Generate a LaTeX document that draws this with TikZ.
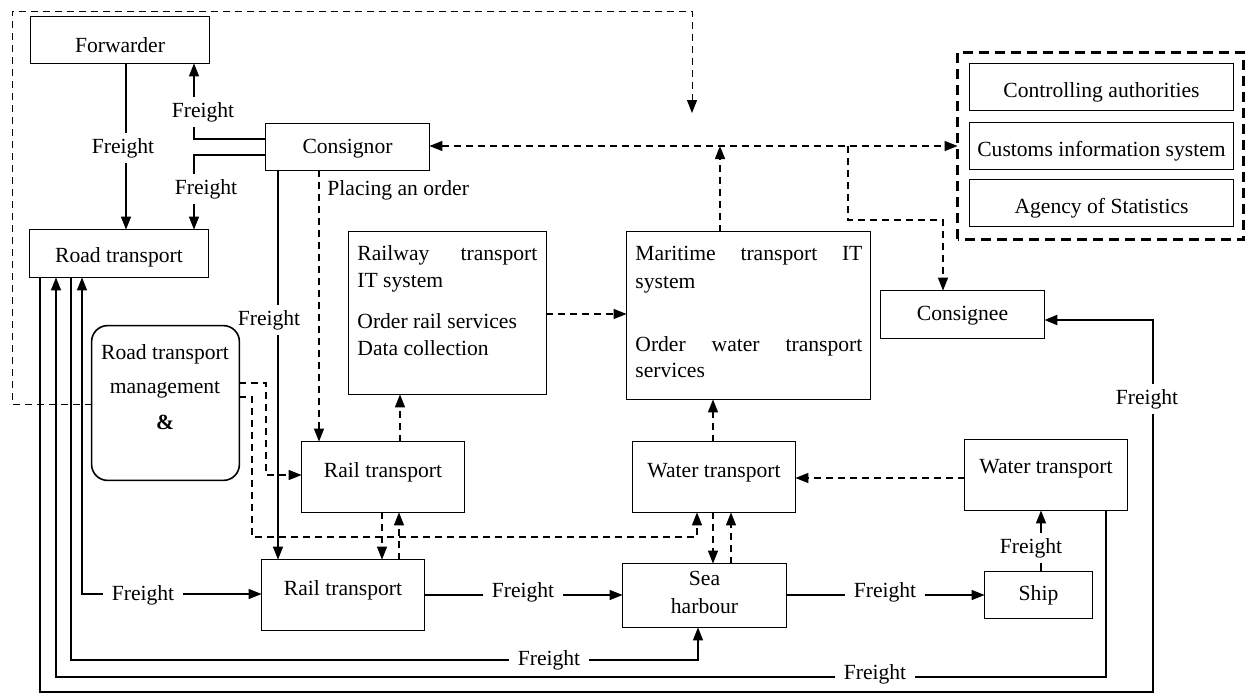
\documentclass[tikz,border=0pt]{standalone}
\usepackage{fontspec}
\setmainfont{Liberation Serif}
\usetikzlibrary{arrows.meta}
\begin{document}
\begin{tikzpicture}[x=0.5pt,y=-0.5pt,
  font=\fontsize{10.8}{13}\selectfont,
  box/.style={draw, line width=0.8pt, inner sep=0pt},
  txt/.style={inner sep=0pt},
  labv/.style={fill=white, inner xsep=1pt, inner ysep=2.5pt},
  labh/.style={fill=white, inner xsep=4.5pt, inner ysep=1pt},
  arr/.style={-{Triangle[length=6.5pt,width=5pt]}},
  arrs/.style={{Triangle[length=6.5pt,width=5pt]}-{Triangle[length=6.5pt,width=5pt]}},
  ln/.style={line width=0.7pt},
  thk/.style={line width=1.1pt},
  dsh/.style={line width=0.7pt, dash pattern=on 3.5pt off 2.5pt},
  grp/.style={draw, line width=1.5pt, dash pattern=on 5pt off 3pt, inner sep=0pt},
]
\useasboundingbox (0,0) rectangle (1246,697);

% ---------- boxes (geometry only) ----------
\path
  node[minimum width=89pt, minimum height=23pt] (fwd) at (120,40) {}
  node[minimum width=89pt, minimum height=23.5pt] (road) at (119,253.5) {}
  node[minimum width=81.5pt, minimum height=23pt] (cons) at (347.5,147) {}
  node[minimum width=73.5pt, minimum height=77pt] (mgmt) at (165.5,403) {}
  node[minimum width=98.5pt, minimum height=81pt] (railit) at (447.5,313) {}
  node[minimum width=121.5pt, minimum height=83.5pt] (marit) at (748.5,315.5) {}
  node[minimum width=81pt, minimum height=35pt] (railu) at (383,477) {}
  node[minimum width=81pt, minimum height=35pt] (raill) at (343,595) {}
  node[minimum width=81pt, minimum height=35pt] (waterm) at (714,477) {}
  node[minimum width=81pt, minimum height=35pt] (waterr) at (1046,475) {}
  node[minimum width=81.5pt, minimum height=31.5pt] (sea) at (704.5,595.5) {}
  node[minimum width=53.5pt, minimum height=23pt] (ship) at (1038.5,595) {}
  node[minimum width=81.5pt, minimum height=23.5pt] (cnee) at (962.5,314.5) {}
  node[minimum width=131.5pt, minimum height=23pt] (ctrl) at (1101.5,87) {}
  node[minimum width=131.5pt, minimum height=23pt] (cust) at (1101.5,146) {}
  node[minimum width=131.5pt, minimum height=23pt] (agcy) at (1101.5,203) {}
  node[minimum width=142.5pt, minimum height=93pt] (auth) at (1100.5,146) {};

\coordinate (j1) at (720,146);
\coordinate (j2) at (848,146);
\coordinate (dn) at (692,113);

% ---------- information flows (dashed) ----------
\draw[dsh, line width=0.5pt, arr] (mgmt.west |- 0,404) -| (12,11) -| (dn);
\draw[dsh, arrs] (cons.east |- j1) -- (auth.west |- j1);
\draw[dsh, arr] (marit.north -| j1) -- (j1);
\draw[dsh, arr] (j2) |- (943,220) -- (cnee.north -| 943,0);
\draw[dsh, arr] (cons.south -| 319,0) -- (railu.north -| 319,0);
\draw[dsh, arr] (railit.east |- 0,314) -- (marit.west |- 0,314);
\draw[dsh, arr] (railu.north -| 400,0) -- (railit.south -| 400,0);
\draw[dsh, arr] (waterm.north -| 713,0) -- (marit.south -| 713,0);
\draw[dsh, arr] (waterr.west |- 0,478) -- (waterm.east |- 0,478);
\draw[dsh, arr] (railu.south -| 382,0) -- (raill.north -| 382,0);
\draw[dsh, arr] (raill.north -| 399,0) -- (railu.south -| 399,0);
\draw[dsh, arr] (waterm.south -| 713,0) -- (sea.north -| 713,0);
\draw[dsh, arr] (sea.north -| 731,0) -- (waterm.south -| 731,0);
\draw[dsh, arr] (mgmt.east |- 0,383) -| (266,475) -- (railu.west |- 0,475);
\draw[dsh, arr] (mgmt.east |- 0,397) -| (252,537) -| (waterm.south -| 697,0);

% ---------- freight flows (solid) ----------
\draw[ln, arr] (fwd.south -| 126,0) -- (road.north -| 126,0);
\draw[ln, arr] (cons.west |- 0,139) -| (fwd.south -| 194,0);
\draw[ln, arr] (cons.west |- 0,155) -| (road.north -| 194,0);
\draw[ln, arr] (cons.south -| 278,0) -- (raill.north -| 278,0);
\draw[ln, arrs] (road.south -| 82,0) |- (raill.west |- 0,594);
\draw[ln, arr] (road.south -| 71,0) |- (698,660) -- (sea.south -| 698,0);
\draw[ln, arr] (waterr.south -| 1106,0) |- (56,677) -- (road.south -| 56,0);
\draw[thk, arr] (road.south -| 40,0) |- (1153,692) |- (cnee.east |- 0,320);
\draw[ln, arr] (raill.east |- 0,595) -- (sea.west |- 0,595);
\draw[ln, arr] (sea.east |- 0,595) -- (ship.west |- 0,595);
\draw[ln, arr] (ship.north -| 1041,0) -- (waterr.south -| 1041,0);

% ---------- flow labels ----------
\node[labv, anchor=base] (f1) at (123,153) {Freight};
\node[labv, anchor=base] (f2) at (203,117) {Freight};
\node[labv, anchor=base] (f3) at (206,194) {Freight};
\node[labv, anchor=base] (f4) at (269,325) {Freight};
\node[labh, anchor=base] (f5) at (143,600) {Freight};
\node[labh, anchor=base] (f6) at (523,597) {Freight};
\node[labh, anchor=base] (f7) at (885,597) {Freight};
\node[labh, anchor=base] (f8) at (549,665) {Freight};
\node[labh, anchor=base] (f9) at (875,679) {Freight};
\node[labv, anchor=base] (f10) at (1031,553) {Freight};
\node[labv, anchor=base] (f11) at (1147,404) {Freight};
\node[txt, anchor=base west] (order) at (327,195) {Placing an order};

% ---------- box outlines ----------
\foreach \b in {fwd,road,cons,railit,marit,railu,raill,waterm,waterr,sea,ship,cnee,ctrl,cust,agcy}
  \draw[line width=0.8pt] (\b.south west) rectangle (\b.north east);
\draw[line width=0.8pt, rounded corners=8pt] (mgmt.south west) rectangle (mgmt.north east);
\draw[grp] (auth.south west) rectangle (auth.north east);

% ---------- box texts ----------
\node[txt, anchor=base] (tfwd) at (120,52) {Forwarder};
\node[txt, anchor=base] (troad) at (119,262) {Road transport};
\node[txt, anchor=base] (tcons) at (347.5,153) {Consignor};
\node[txt, anchor=base] (tm1) at (165,359) {Road transport};
\node[txt, anchor=base] (tm2) at (165,393) {management};
\node[txt, anchor=base] (tm3) at (165,429) {\textbf{\&}};
\node[txt, anchor=base west] (tr1) at (357,260) {\makebox[90pt][s]{Railway transport}};
\node[txt, anchor=base west] (tr2) at (357,287) {IT system};
\node[txt, anchor=base west] (tr3) at (357,328) {Order rail services};
\node[txt, anchor=base west] (tr4) at (357,355) {Data collection};
\node[txt, anchor=base west] (tw1) at (635,260) {\makebox[113.5pt][s]{Maritime transport IT}};
\node[txt, anchor=base west] (tw2) at (635,288) {system};
\node[txt, anchor=base west] (tw3) at (635,351) {\makebox[113.5pt][s]{Order water transport}};
\node[txt, anchor=base west] (tw4) at (635,377) {services};
\node[txt, anchor=base] (trailu) at (383,477) {Rail transport};
\node[txt, anchor=base] (traill) at (343,595) {Rail transport};
\node[txt, anchor=base] (twaterm) at (714,477) {Water transport};
\node[txt, anchor=base] (twaterr) at (1046,473) {Water transport};
\node[txt, anchor=base] (tsea1) at (704.5,585) {Sea};
\node[txt, anchor=base] (tsea2) at (704.5,613) {harbour};
\node[txt, anchor=base] (tship) at (1038.5,600) {Ship};
\node[txt, anchor=base] (tcnee) at (962.5,320) {Consignee};
\node[txt, anchor=base] (tctrl) at (1101.5,97) {Controlling authorities};
\node[txt, anchor=base] (tcust) at (1101.5,156) {Customs information system};
\node[txt, anchor=base] (tagcy) at (1101.5,213) {Agency of Statistics};
\end{tikzpicture}
\end{document}
